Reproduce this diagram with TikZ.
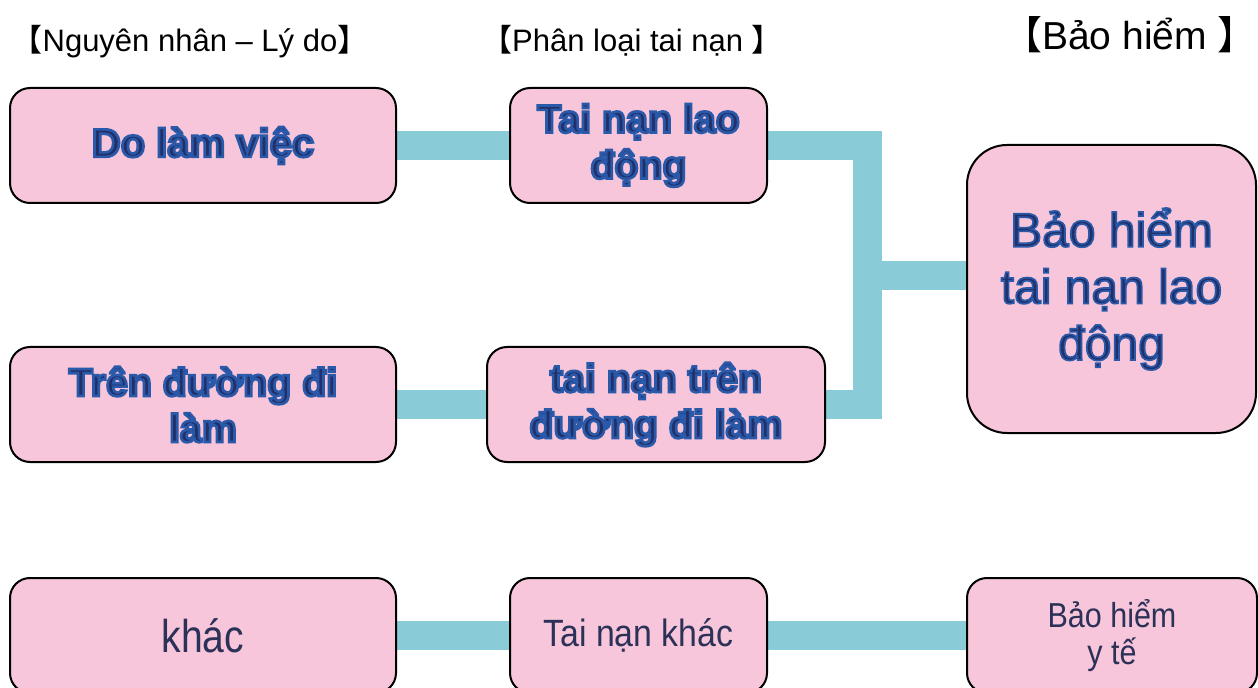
\documentclass[tikz,border=0pt]{standalone}
\usepackage{fontspec}
\setmainfont{Liberation Sans}
\newfontfamily\cjk{Noto Sans CJK SC}
\newfontfamily\narrowA[FakeStretch=0.85]{Liberation Sans}
\newfontfamily\narrowB[FakeStretch=0.89]{Liberation Sans}
\newfontfamily\narrowC[FakeStretch=0.88]{Liberation Sans}
\usetikzlibrary{backgrounds}
\definecolor{boxpink}{HTML}{F7C6DA}
\definecolor{barteal}{HTML}{89CCD8}
\definecolor{navyfill}{HTML}{22306A}
\definecolor{plainnavy}{HTML}{2B3157}
\newcommand\outl[2][2]{\special{pdf:literal direct q 0.16 0.35 0.66 RG #1 w 2 Tr}#2\special{pdf:literal direct Q}}
\tikzset{
  box/.style={draw=black, line width=1.5pt, fill=boxpink, rounded corners=15pt, inner sep=0pt, align=center},
  bar/.style={draw=barteal, line width=21.75pt, line join=miter, line cap=butt},
  boldtxt/.style={font=\bfseries\fontsize{29.5}{34.5}\selectfont, text=navyfill},
  plaintxt/.style={text=plainnavy},
  headtxt/.style={anchor=base, text=black, font=\fontsize{23.25}{28}\selectfont},
}
\begin{document}
\begin{tikzpicture}[x=0.75pt,y=-0.75pt]
\clip (0,0) rectangle (1258,688);
% headers
\node[headtxt] (h1) at (190,52) {{\cjk【}Nguyên nhân – Lý do{\cjk】}};
\node[headtxt] (h2) at (632,52) {{\cjk【}Phân loại tai nạn {\cjk】}};
\node[headtxt, font=\fontsize{29.25}{34}\selectfont] (h3) at (1130,50) {{\cjk【}Bảo hiểm {\cjk】}};
% boxes
\node[box, minimum width=289.5pt, minimum height=86.25pt, boldtxt, font=\bfseries\fontsize{30}{35}\selectfont] (A) at (203,145.5) {\outl{Do làm việc}};
\node[box, minimum width=192.75pt, minimum height=86.25pt, boldtxt] (B) at (638.5,145.5) {\outl{Tai nạn lao\\động}};
\node[box, minimum width=216.75pt, minimum height=216pt, rounded corners=30pt, text=navyfill, font=\fontsize{36}{42.5}\selectfont] (C) at (1111.5,289) {\outl[1.3]{Bảo hiểm\\tai nạn lao\\động}};
\node[box, minimum width=289.5pt, minimum height=86.25pt, boldtxt] (D) at (203,404.5) {\outl{Trên đường đi\\làm}};
\node[box, minimum width=253.5pt, minimum height=86.25pt, boldtxt] (E) at (656,404.5) {\outl{tai nạn trên\\đường đi làm}};
\node[box, minimum width=289.5pt, minimum height=86.25pt, plaintxt, font=\narrowA\fontsize{34.5}{40}\selectfont] (F) at (203,635.5) {khác};
\node[box, minimum width=192.75pt, minimum height=86.25pt, plaintxt, font=\narrowB\fontsize{28.5}{34}\selectfont] (G) at (638.5,635.5) {Tai nạn khác};
\node[box, minimum width=217.5pt, minimum height=86.25pt, plaintxt, font=\narrowC\fontsize{26}{28}\selectfont] (H) at (1112,635.5) {Bảo hiểm\\y tế};
\coordinate (j) at (867.5,275.5);
% connectors
\begin{scope}[on background layer]
\draw[bar] (A.east) -- (B.west);
\draw[bar] (D.east) -- (E.west);
\draw[bar] (B.east) -| (j |- E.east) -- (E.east);
\draw[bar] (j) -- (j -| C.west);
\draw[bar] (F.east) -- (G.west);
\draw[bar] (G.east) -- (H.west);
\end{scope}
\end{tikzpicture}
\end{document}
